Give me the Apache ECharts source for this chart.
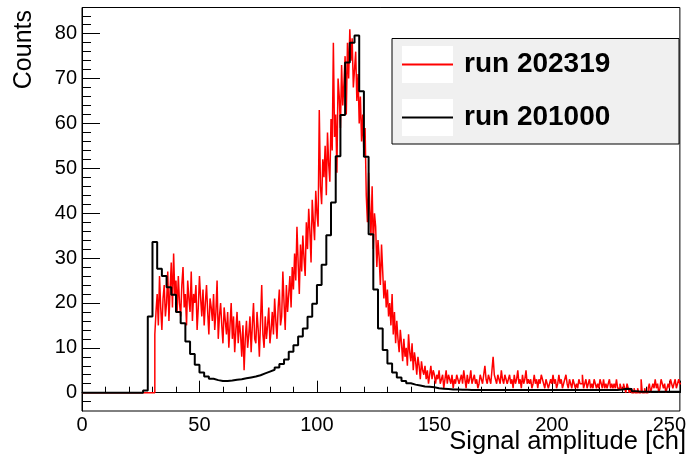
<!DOCTYPE html>
<html>
<head>
<meta charset="utf-8">
<script src="https://cdn.jsdelivr.net/npm/echarts@6/dist/echarts.min.js"></script>
<style>
html, body { margin: 0; padding: 0; background: #fff; }
#chart { width: 689px; height: 461px; }
</style>
</head>
<body>
<div id="chart"></div>
<script>
// run 202319, 0.5 ch bins, first filled bin starts at 31 (empty below)
const redStart = 31;
const redBinWidth = 0.5;
const redCounts = [
  13, 18, 22, 15, 26, 19, 14, 21, 24, 17, 20, 27, 16, 23, 29, 19, 31, 22, 25, 18,
  26, 20, 17, 24, 28, 19, 22, 15, 25, 21, 18, 27, 16, 22, 20, 24, 14, 19, 26, 21,
  17, 23, 15, 20, 24, 18, 13, 21, 19, 16, 22, 14, 18, 25, 12, 17, 20, 15, 11, 19,
  16, 13, 18, 10, 15, 20, 12, 17, 9, 14, 18, 11, 16, 13, 8, 15, 5, 12, 16, 10,
  13, 17, 9, 15, 20, 12, 11, 18, 14, 8, 16, 24, 13, 10, 17, 12, 15, 19, 11, 14,
  18, 13, 21, 16, 12, 19, 23, 15, 17, 27, 20, 14, 24, 18, 22, 26, 19, 28, 23, 31,
  25, 37, 29, 22, 33, 27, 35, 30, 26, 38, 32, 41, 36, 29, 43, 38, 34, 45, 40, 37,
  63, 46, 42, 52, 48, 55, 44, 58, 51, 47, 61, 54, 78, 57, 62, 49, 70, 66, 59, 73,
  64, 69, 75, 62, 78, 70, 81, 74, 79, 68, 72, 76, 65, 71, 60, 66, 56, 62, 53, 59,
  44, 38, 49, 41, 35, 46, 32, 40, 37, 28, 34, 30, 24, 33, 27, 21, 25, 19, 23, 17,
  20, 15, 22, 13, 18, 11, 16, 12, 9, 14, 11, 7, 12, 8, 10, 6, 13, 9, 7, 11,
  5, 9, 7, 4, 8, 6, 3, 7, 5, 4, 6, 3, 5, 2, 4, 6, 3, 5, 4, 2,
  4, 3, 5, 2, 3, 4, 1, 3, 5, 2, 4, 3, 2, 4, 1, 3, 2, 4, 3, 2,
  3, 4, 2, 5, 3, 1, 4, 2, 3, 5, 2, 3, 4, 2, 3, 1, 2, 4, 3, 2,
  4, 6, 3, 2, 4, 3, 2, 5, 8, 4, 3, 2, 4, 3, 2, 5, 3, 2, 4, 3,
  2, 3, 4, 2, 3, 1, 4, 2, 3, 5, 2, 3, 1, 4, 2, 3, 5, 2, 3, 2,
  3, 1, 2, 4, 2, 3, 1, 3, 2, 4, 3, 2, 1, 3, 2, 1, 2, 3, 2, 4,
  2, 3, 1, 2, 4, 2, 3, 1, 2, 3, 4, 2, 1, 3, 2, 1, 3, 2, 1, 2,
  1, 3, 2, 2, 4, 1, 2, 3, 1, 2, 3, 1, 2, 1, 3, 2, 1, 2, 1, 3,
  2, 1, 3, 1, 2, 1, 2, 3, 1, 2, 1, 2, 1, 3, 1, 1, 2, 1, 1, 2,
  1, 0, 2, 1, 0, 1, 0, 0, 1, 0, 0, 1, 0, 0, 3, 0, 0, 1, 0, 0,
  1, 2, 0, 1, 2, 1, 3, 1, 2, 0, 1, 3, 2, 1, 2, 0, 1, 2, 1, 3,
  2, 1, 2, 3, 1, 2, 3, 2
];

// run 201000, 2 ch bins starting at 0
const blackStart = 0;
const blackBinWidth = 2;
const blackCounts = [
  0, 0, 0, 0, 0, 0, 0, 0, 0, 0,
  0, 0, 0, 0.5, 17, 33.6, 27.6, 26, 23.5, 21.8,
  18, 15.5, 11.4, 8.6, 6.2, 4.5, 3.6, 3.1, 2.8, 2.6,
  2.6, 2.7, 2.9, 3.0, 3.2, 3.4, 3.6, 3.9, 4.3, 4.7,
  5.1, 5.6, 6.4, 7.4, 9.1, 10.6, 12.5, 14.3, 16.9, 19.8,
  24, 28.5, 35.1, 42.4, 52.7, 61.9, 73.6, 78, 79.6, 67.2,
  52.6, 35.3, 23, 14.3, 9.5, 6.5, 4.5, 3.4, 2.6, 2.1,
  1.8, 1.6, 1.4, 1.3, 1.2, 1.0, 0.9, 0.8, 0.7, 0.7,
  0.65, 0.65, 0.6, 0.6, 0.6, 0.6, 0.6, 0.6, 0.6, 0.6,
  0.6, 0.6, 0.6, 0.6, 0.6, 0.6, 0.6, 0.6, 0.6, 0.6,
  0.6, 0.6, 0.6, 0.6, 0.6, 0.6, 0.6, 0.6, 0.6, 0.6,
  0.6, 0.6, 0.6, 0.6, 0.7, 0.9, 0.8, 0.3, 0.2, 0.2,
  0.2, 0.2, 0.2, 0.2, 0.2, 0.2, 0.2, 0.2
];

const seriesNames = ['run 202319', 'run 201000'];
const yMajorTicks = [0, 10, 20, 30, 40, 50, 60, 70, 80];
const yMinorTicks = [-2, 0, 2, 4, 6, 8, 10, 12, 14, 16, 18, 20, 22, 24, 26, 28, 30, 32, 34, 36, 38, 40,
  42, 44, 46, 48, 50, 52, 54, 56, 58, 60, 62, 64, 66, 68, 70, 72, 74, 76, 78, 80, 82, 84];

const font = '"Liberation Sans", Arial, Helvetica, sans-serif';

// histogram outline: flat top per bin, vertical jumps between bins
function toSteps(counts, start, binWidth) {
  const pts = [[0, 0], [start, 0]];
  counts.forEach(function (c, i) {
    pts.push([start + i * binWidth, c]);
    pts.push([start + (i + 1) * binWidth, c]);
  });
  return pts;
}

const chart = echarts.init(document.getElementById('chart'), null, { renderer: 'canvas' });
chart.setOption({
  animation: false,
  backgroundColor: '#fff',
  grid: {
    left: 82, right: 3.5, top: 7.5, bottom: 50,
    show: true, borderColor: '#000', borderWidth: 1, backgroundColor: 'transparent'
  },
  xAxis: {
    type: 'value', min: 0, max: 254.5, interval: 50,
    axisLine: { show: true, lineStyle: { color: '#000', width: 1 } },
    axisTick: { show: true, inside: true, length: 12, lineStyle: { color: '#000' } },
    minorTick: { show: true, splitNumber: 5, length: 6, lineStyle: { color: '#000' } },
    axisLabel: { fontSize: 20, color: '#000', margin: 4, fontFamily: font },
    splitLine: { show: false }
  },
  yAxis: [
    {
      type: 'value', min: -4.08, max: 85.84,
      axisLine: { show: true, lineStyle: { color: '#000', width: 1 } },
      axisTick: { show: true, inside: true, length: 18, customValues: yMajorTicks, lineStyle: { color: '#000' } },
      axisLabel: { customValues: yMajorTicks, fontSize: 20, color: '#000', margin: 5, fontFamily: font },
      splitLine: { show: false }
    },
    {
      type: 'value', min: -4.08, max: 85.84, position: 'left',
      axisLine: { show: false },
      axisTick: { show: true, inside: true, length: 9, customValues: yMinorTicks, lineStyle: { color: '#000' } },
      axisLabel: { show: false },
      splitLine: { show: false }
    }
  ],
  legend: {
    data: [
      { name: seriesNames[0], icon: 'rect' },
      { name: seriesNames[1], icon: 'rect' }
    ],
    orient: 'vertical',
    left: 402, top: 46,
    padding: 0,
    itemWidth: 51, itemHeight: 2, itemGap: 16,
    z: 10,
    textStyle: { fontSize: 28, fontWeight: 'bold', color: '#000', fontFamily: font, lineHeight: 37, padding: [0, 0, 0, 6] }
  },
  graphic: [
    { type: 'rect', z: 1, shape: { x: 392, y: 38.5, width: 287, height: 105.5 },
      style: { fill: '#f0f0f0', stroke: '#000', lineWidth: 1 } },
    { type: 'rect', z: 2, shape: { x: 402, y: 46, width: 51, height: 37 }, style: { fill: '#fff' } },
    { type: 'rect', z: 2, shape: { x: 402, y: 99, width: 51, height: 37 }, style: { fill: '#fff' } },
    { type: 'text', z: 2, x: 24, y: 10, rotation: Math.PI / 2,
      style: { text: 'Counts', fontSize: 25, fontFamily: font, fill: '#000', align: 'right', verticalAlign: 'middle' } },
    { type: 'text', z: 2, x: 686, y: 442,
      style: { text: 'Signal amplitude [ch]', fontSize: 25.5, fontFamily: font, fill: '#000', align: 'right', verticalAlign: 'middle' } }
  ],
  series: [
    {
      name: seriesNames[0], type: 'line', data: toSteps(redCounts, redStart, redBinWidth),
      symbol: 'none', z: 2, clip: true,
      lineStyle: { color: '#ff0000', width: 1.5 }, itemStyle: { color: '#ff0000' }
    },
    {
      name: seriesNames[1], type: 'line', data: toSteps(blackCounts, blackStart, blackBinWidth),
      symbol: 'none', z: 3, clip: true,
      lineStyle: { color: '#000', width: 2 }, itemStyle: { color: '#000' }
    }
  ]
});
</script>
</body>
</html>
